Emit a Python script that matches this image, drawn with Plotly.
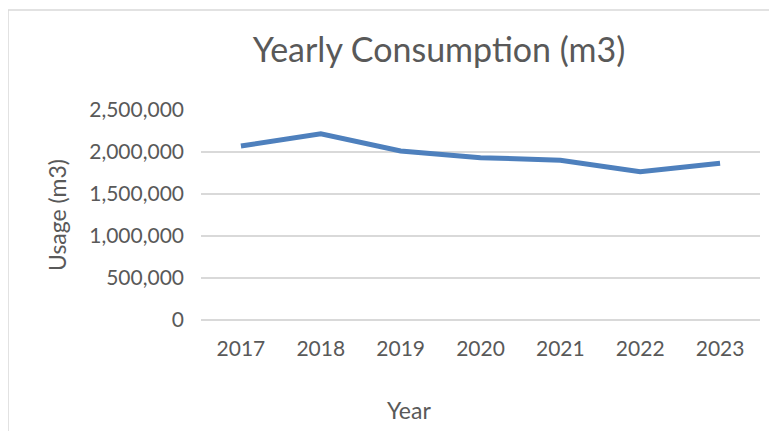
import plotly.graph_objects as go

years = ["2017", "2018", "2019", "2020", "2021", "2022", "2023"]
usage = [2071000, 2217000, 2012000, 1933000, 1902000, 1764000, 1866000]
y_ticks = [0, 500000, 1000000, 1500000, 2000000, 2500000]

# the page has an 8px body margin, so the figure starts at (8, 8) in the window
W, H = 769, 423
L, R, T, B = 193, 17, 102, 111
pw, ph = W - L - R, H - T - B

TEXT = "#595959"
GRID = "#d9d9d9"
FONT = "Lato, 'Open Sans', sans-serif"

fig = go.Figure()
fig.add_trace(go.Scatter(
    x=years, y=usage, mode="lines",
    line=dict(color="#4E80BD", width=5),
    hoverinfo="x+y",
))

# chart-area frame (Excel style), cropped by the picture edge on right/bottom
fig.add_shape(
    type="rect", xref="paper", yref="paper",
    x0=(0 - L) / pw, x1=(W + 40 - L) / pw,
    y0=-(H + 40 - T - ph) / ph, y1=1 + (T - 2) / ph,
    line=dict(color=GRID, width=1.5), layer="below",
)

# x-axis title sits left of the plot centre in the original, so place it by hand
fig.add_annotation(
    text="Year", xref="paper", yref="paper",
    x=(401 - L) / pw, y=(H - 402 - B) / ph,
    xanchor="center", yanchor="middle", showarrow=False,
    font=dict(size=23, color=TEXT, family=FONT),
)

fig.update_layout(
    width=W, height=H,
    margin=dict(l=L, r=R, t=T, b=B),
    paper_bgcolor="white", plot_bgcolor="white",
    showlegend=False,
    font=dict(family=FONT, color=TEXT, size=21),
    title=dict(
        text="Yearly Consumption (m3)",
        x=431 / W, xanchor="center",
        y=1 - 42 / H, yanchor="middle",
        font=dict(size=34, color=TEXT, family=FONT),
    ),
)
fig.update_xaxes(
    type="category", range=[-0.5, len(years) - 0.5],
    showgrid=False, showline=False, zeroline=False,
    ticks="", ticklabelstandoff=14,
    tickfont=dict(size=21),
)
fig.update_yaxes(
    range=[0, 2500000], tickvals=y_ticks, tickformat=",",
    showgrid=True, gridcolor=GRID, gridwidth=1.5,
    zeroline=True, zerolinecolor=GRID, zerolinewidth=1.5,
    showline=False, ticks="", ticklabelstandoff=16,
    title=dict(text="Usage (m3)", standoff=16, font=dict(size=23)),
    tickfont=dict(size=21),
)

fig.write_html("out.html")
